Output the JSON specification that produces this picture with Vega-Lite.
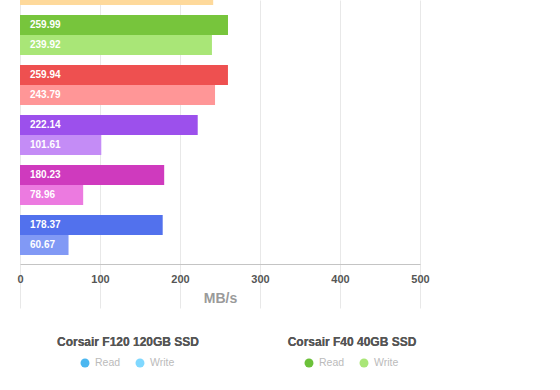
{
  "$schema": "https://vega.github.io/schema/vega-lite/v6.json",
  "padding": {"left": 16, "top": -6, "right": 0, "bottom": 0},
  "autosize": {"type": "pad"},
  "background": "white",
  "spacing": 31,
  "resolve": {"scale": {"color": "independent", "x": "independent", "y": "independent", "xOffset": "independent", "yOffset": "independent"}},
  "config": {"view": {"stroke": null}, "font": "Liberation Sans"},
  "datasets": {
    "bars": [
      {"drive": "Orange drive", "type": "Write", "series": "Orange Write", "value": 241.5},
      {"drive": "Corsair F40 40GB SSD", "type": "Read", "series": "F40 Read", "value": 259.99},
      {"drive": "Corsair F40 40GB SSD", "type": "Write", "series": "F40 Write", "value": 239.92},
      {"drive": "Red drive", "type": "Read", "series": "Red Read", "value": 259.94},
      {"drive": "Red drive", "type": "Write", "series": "Red Write", "value": 243.79},
      {"drive": "Purple drive", "type": "Read", "series": "Purple Read", "value": 222.14},
      {"drive": "Purple drive", "type": "Write", "series": "Purple Write", "value": 101.61},
      {"drive": "Magenta drive", "type": "Read", "series": "Magenta Read", "value": 180.23},
      {"drive": "Magenta drive", "type": "Write", "series": "Magenta Write", "value": 78.96},
      {"drive": "Blue drive", "type": "Read", "series": "Blue Read", "value": 178.37},
      {"drive": "Blue drive", "type": "Write", "series": "Blue Write", "value": 60.67}
    ],
    "legend": [
      {"drive": "Corsair F120 120GB SSD", "type": "Read", "series": "F120 Read"},
      {"drive": "Corsair F120 120GB SSD", "type": "Write", "series": "F120 Write"},
      {"drive": "Corsair F40 40GB SSD", "type": "Read", "series": "F40 Read"},
      {"drive": "Corsair F40 40GB SSD", "type": "Write", "series": "F40 Write"}
    ]
  },
  "vconcat": [
    {
      "width": 400,
      "height": 264,
      "data": {"name": "bars"},
      "encoding": {
        "y": {
          "field": "drive",
          "type": "nominal",
          "sort": ["Orange drive", "Corsair F40 40GB SSD", "Red drive", "Purple drive", "Magenta drive", "Blue drive"],
          "scale": {"range": [-44, 264], "paddingInner": 0.2, "paddingOuter": 0.18},
          "axis": null
        },
        "yOffset": {
          "field": "type",
          "type": "nominal",
          "sort": ["Read", "Write"],
          "scale": {"paddingInner": 0, "paddingOuter": 0}
        },
        "x": {
          "field": "value",
          "type": "quantitative",
          "scale": {"domain": [0, 500], "nice": false},
          "axis": {
            "values": [0, 100, 200, 300, 400, 500],
            "grid": true,
            "gridColor": "#e8e8e8",
            "domainColor": "#c4c4c4",
            "ticks": false,
            "labelFlush": false,
            "labelPadding": 9,
            "labelFontSize": 11,
            "labelFontWeight": "bold",
            "labelColor": "#555555",
            "title": "MB/s",
            "titleColor": "#9a9a9a",
            "titleFontSize": 14,
            "titleFontWeight": "bold",
            "titlePadding": 7
          }
        }
      },
      "layer": [
        {
          "mark": {"type": "bar", "clip": true},
          "encoding": {
            "color": {
              "field": "series",
              "type": "nominal",
              "legend": null,
              "scale": {
                "domain": ["Orange Write", "F40 Read", "F40 Write", "Red Read", "Red Write", "Purple Read", "Purple Write", "Magenta Read", "Magenta Write", "Blue Read", "Blue Write"],
                "range": ["#fed99b", "#77c53c", "#a9e677", "#ee5050", "#ff9697", "#9c50ec", "#c48cf6", "#cf3abe", "#ec7ae0", "#5271ed", "#8199f5"]
              }
            }
          }
        },
        {
          "transform": [{"filter": "datum.drive !== 'Orange drive'"}],
          "mark": {"type": "text", "clip": true, "align": "left", "baseline": "middle", "dx": 10, "color": "white", "fontWeight": "bold", "fontSize": 10},
          "encoding": {
            "x": {"datum": 0},
            "text": {"field": "value", "type": "quantitative", "format": ".2f"}
          }
        },
        {
          "mark": {"type": "rule", "color": "#c4c4c4"},
          "encoding": {"x": {"datum": 0}}
        }
      ]
    },
    {
      "width": 448,
      "height": 21,
      "data": {"name": "legend"},
      "encoding": {
        "x": {
          "field": "drive",
          "type": "nominal",
          "sort": ["Corsair F120 120GB SSD", "Corsair F40 40GB SSD"],
          "scale": {"paddingInner": 0, "paddingOuter": 0},
          "axis": null
        },
        "xOffset": {"field": "type", "type": "nominal", "sort": ["Read", "Write"], "scale": {"type": "point", "range": [65, 120], "padding": 0}}
      },
      "layer": [
        {
          "mark": {"type": "text", "fontWeight": "bold", "fontSize": 12, "color": "#555555", "dx": -4, "baseline": "middle"},
          "encoding": {
            "xOffset": null,
            "y": {"datum": "title", "type": "ordinal", "scale": {"type": "point", "domain": ["title", "items"], "padding": 0}, "axis": null},
            "text": {"field": "drive"}
          }
        },
        {
          "mark": {"type": "point", "filled": true, "shape": "circle", "size": 80, "opacity": 1},
          "encoding": {
            "y": {"datum": "items", "type": "ordinal"},
            "color": {
              "field": "series",
              "type": "nominal",
              "legend": null,
              "scale": {
                "domain": ["F120 Read", "F120 Write", "F40 Read", "F40 Write"],
                "range": ["#4bb7f0", "#80d8ff", "#6cc13a", "#a9e677"]
              }
            }
          }
        },
        {
          "mark": {"type": "text", "align": "left", "baseline": "middle", "dx": 10, "fontSize": 10.5, "color": "#bbbbbb"},
          "encoding": {
            "y": {"datum": "items", "type": "ordinal"},
            "text": {"field": "type"}
          }
        }
      ]
    }
  ]
}
